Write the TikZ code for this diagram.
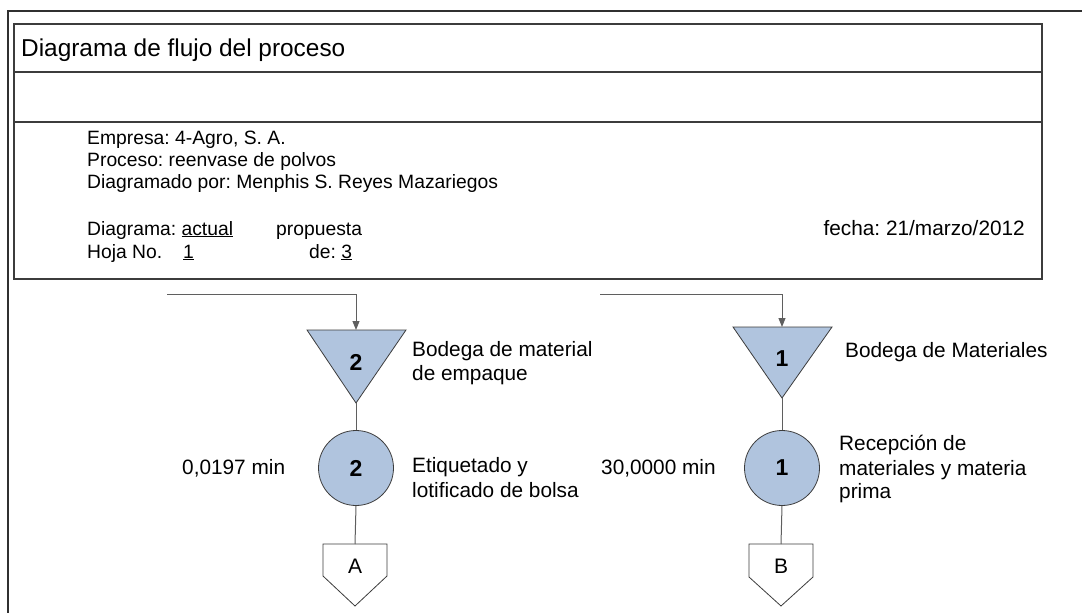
\documentclass[tikz,border=0pt]{standalone}
\usepackage{fontspec}
\setmainfont{Liberation Sans}
\usetikzlibrary{arrows.meta}
\definecolor{symfill}{RGB}{176,196,222}
\definecolor{edgecol}{RGB}{60,60,60}
\definecolor{flowcol}{RGB}{95,95,95}
\frenchspacing
\begin{document}
\begin{tikzpicture}[x=1pt,y=-1pt,
  outerline/.style={draw=edgecol!80!black, line width=2pt},
  boxline/.style={draw=edgecol, line width=1.2pt},
  flow/.style={draw=flowcol, line width=1pt},
  flowarrow/.style={flow, -{Triangle[length=9pt,width=7pt]}},
  symbol/.style={draw=edgecol, line width=0.8pt, fill=symfill},
  opcircle/.style={symbol, circle, minimum size=75pt, inner sep=0pt,
    font=\fontsize{23}{26}\selectfont\bfseries},
  symnum/.style={inner sep=0pt, font=\fontsize{23}{26}\selectfont\bfseries},
  connlabel/.style={inner sep=0pt, font=\fontsize{21}{24}\selectfont},
  head/.style={anchor=base west, inner sep=0pt, font=\fontsize{19.3}{22}\selectfont},
  label/.style={anchor=base west, inner sep=0pt, font=\fontsize{20.8}{24}\selectfont},
  titletext/.style={anchor=base west, inner sep=0pt, font=\fontsize{24.4}{28}\selectfont}]
\useasboundingbox (0,0) rectangle (1082,613);

% outer page frame
\draw[outerline] (1082,11) -- (8,11) -- (8,613);

% header block
\draw[boxline] (14,24) rectangle (1042,279);
\draw[boxline] (14,72) -- (1042,72);
\draw[boxline] (14,122) -- (1042,122);
\node[titletext] (title) at (21,56) {Diagrama de flujo del proceso};
\node[head] (empresa) at (87,144) {Empresa: 4-Agro, S. A.};
\node[head] (proceso) at (87,166) {Proceso: reenvase de polvos};
\node[head] (autor) at (87,188) {Diagramado por: Menphis S. Reyes Mazariegos};
\node[head] (tipo) at (87,235) {Diagrama: \underline{actual}};
\node[head] (propuesta) at (276,235) {propuesta};
\node[head] (hoja) at (87,258) {Hoja No.};
\node[head] (hojanum) at (183,258) {\underline{1}};
\node[head] (de) at (309,258) {de: \underline{3}};
\node[anchor=base east, inner sep=0pt, font=\fontsize{20.8}{24}\selectfont] (fecha) at (1025,235) {fecha: 21/marzo/2012};

% ---- left column: storage 2 -> operation 2 -> connector A
\coordinate (inL) at (167,294);
\coordinate (st2top) at (356,330);
\coordinate (st2apex) at (356,403);
\path[symbol] (307,330) -- (406,330) -- (st2apex) -- cycle;
\node[symnum] (st2num) at (356,362) {2};
\draw[flowarrow] (inL) -| (st2top);
\node[label] (st2lbl1) at (412,356) {Bodega de material};
\node[label] (st2lbl2) at (412,380) {de empaque};

\node[opcircle] (op2) at (356,468) {2};
\draw[flow] (st2apex) -- (op2.north);
\node[label] (op2time) at (182,474) {0,0197 min};
\node[label] (op2lbl1) at (412,472) {Etiquetado y};
\node[label] (op2lbl2) at (412,497) {lotificado de bolsa};

\coordinate (cAtop) at (355,544);
\path[draw=edgecol, line width=0.8pt, fill=white]
  (323,544) -- (387,544) -- (387,576) -- (355,606) -- (323,576) -- cycle;
\node[connlabel] (cA) at (355,566) {A};
\draw[flow] (op2.south) -- (cAtop);

% ---- right column: storage 1 -> operation 1 -> connector B
\coordinate (inR) at (600,294);
\coordinate (st1top) at (782,327);
\coordinate (st1apex) at (782,398);
\path[symbol] (733,327) -- (832,327) -- (st1apex) -- cycle;
\node[symnum] (st1num) at (782,359) {1};
\draw[flowarrow] (inR) -| (st1top);
\node[label] (st1lbl) at (845,357) {Bodega de Materiales};

\node[opcircle] (op1) at (782,468) {1};
\draw[flow] (st1apex) -- (op1.north);
\node[label] (op1time) at (601,474) {30,0000 min};
\node[label] (op1lbl1) at (839,450) {Recepción de};
\node[label] (op1lbl2) at (839,475) {materiales y materia};
\node[label] (op1lbl3) at (839,498) {prima};

\coordinate (cBtop) at (781,544);
\path[draw=edgecol, line width=0.8pt, fill=white]
  (749,544) -- (813,544) -- (813,577) -- (781,606) -- (749,577) -- cycle;
\node[connlabel] (cB) at (781,566) {B};
\draw[flow] (op1.south) -- (cBtop);
\end{tikzpicture}
\end{document}
